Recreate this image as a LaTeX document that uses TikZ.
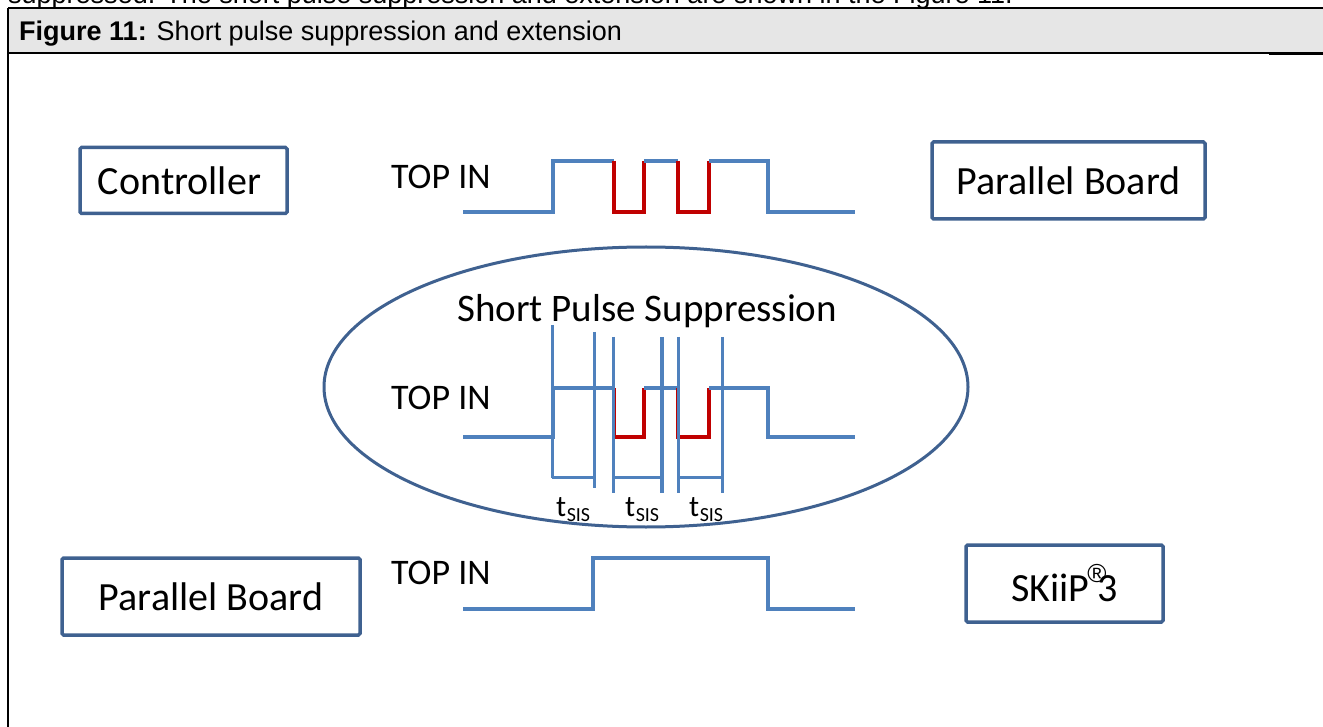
\documentclass[tikz,border=0pt]{standalone}
\usepackage{fontspec}
\setmainfont{Carlito}
\newfontfamily\arialf{Liberation Sans}
\usetikzlibrary{shapes.geometric}
\definecolor{boxc}{HTML}{3F6190}
\definecolor{wave}{HTML}{4F81BD}
\definecolor{redw}{HTML}{C00000}
\definecolor{hdr}{HTML}{E6E6E6}
\tikzset{
  labelbox/.style={draw=boxc, line width=3.5pt, rounded corners=1.5pt, inner sep=0pt, font=\fontsize{40}{48}\selectfont},
  wv/.style={draw=wave, line width=4pt, line join=miter},
  rd/.style={draw=redw, line width=4pt, line join=miter},
  tickline/.style={draw=wave, line width=3pt},
  siglabel/.style={anchor=base west, inner sep=0pt, font=\fontsize{36}{43}\selectfont},
  tlabel/.style={anchor=base west, inner sep=0pt, font=\fontsize{30}{34}\selectfont},
}
\newcommand{\tsis}{t\kern0.5pt\raisebox{-5pt}{\fontsize{20}{20}\selectfont SIS}}
\begin{document}
\begin{tikzpicture}[x=1pt,y=-1pt]
\useasboundingbox (0,0) rectangle (1323,727);
\clip (0,0) rectangle (1323,727);
% header
\fill[white] (0,0) rectangle (1323,727);
\node[anchor=base west, inner sep=0pt, font=\arialf\fontsize{27}{30}\selectfont] (prev) at (8,3.5) {suppressed. The short pulse suppression and extension are shown in the Figure 11.};
\fill[hdr] (8,8) rectangle (1323,53);
\draw[line width=1.5pt] (8,8) -- (1323,8);
\draw[line width=1.5pt] (8,53) -- (1269,53);
\draw[line width=3pt] (1269,54) -- (1323,54);
\draw[line width=1.5pt] (8,8) -- (8,727);
\node[anchor=base west, inner sep=0pt, font=\arialf\fontsize{27}{30}\selectfont] (hd) at (19,41) {\textbf{Figure 11:} Short pulse suppression and extension};
% boxes
\node[labelbox, minimum width=207pt, minimum height=66pt] (ctrl) at (183.5,180.5) {Controller\kern8pt};
\node[labelbox, minimum width=273pt, minimum height=77pt] (pb1) at (1068.5,180.5) {Parallel Board};
\node[labelbox, minimum width=298pt, minimum height=77pt] (pb2) at (211,596.5) {Parallel Board};
\node[labelbox, minimum width=197pt, minimum height=77pt] (skiip) at (1064.5,583.5) {SKiiP\kern-2pt\raisebox{19pt}{\arialf\fontsize{26}{26}\selectfont\textregistered}\kern-9pt 3};
% ellipse
\node[draw=boxc, line width=3pt, ellipse, minimum width=644pt, minimum height=280pt, inner sep=0pt] (ell) at (646,387) {};
\node[anchor=base west, inner sep=0pt, font=\fontsize{39}{47}\selectfont] (sps) at (457,322) {Short Pulse Suppression};
% labels
\node[siglabel] (top1) at (391,189) {TOP IN};
\node[siglabel] (top2) at (391,409) {TOP IN};
\node[siglabel] (top3) at (391,584) {TOP IN};
% waveform 1
\draw[wv] (463,212) -- (553,212) -- (553,161) -- (614,161);
\draw[rd] (614,161) -- (614,212) -- (644,212) -- (644,161);
\draw[wv] (644,161) -- (678,161);
\draw[rd] (678,161) -- (678,212) -- (709,212) -- (709,161);
\draw[wv] (709,161) -- (768,161) -- (768,212) -- (855,212);
% waveform 2
\draw[wv] (463,437) -- (553,437) -- (553,388) -- (614,388);
\draw[rd] (614,388) -- (614,437) -- (644,437) -- (644,388);
\draw[wv] (644,388) -- (678,388);
\draw[rd] (678,388) -- (678,437) -- (709,437) -- (709,388);
\draw[wv] (709,388) -- (768,388) -- (768,437) -- (855,437);
% timing marks
\draw[tickline] (552,325) -- (552,478);
\draw[tickline] (594,332) -- (594,488);
\draw[tickline] (613,337) -- (613,493);
\draw[draw=wave, line width=3.5pt] (662,337) -- (662,493);
\draw[tickline] (678,337) -- (678,493);
\draw[tickline] (722,337) -- (722,493);
\draw[tickline] (552,477) -- (594,477);
\draw[tickline] (613,477) -- (662,477);
\draw[tickline] (678,477) -- (722,477);
\node[tlabel] (t1) at (556,516) {\tsis};
\node[tlabel] (t2) at (625,516) {\tsis};
\node[tlabel] (t3) at (689,516) {\tsis};
% waveform 3
\draw[wv] (463,609) -- (593,609) -- (593,558) -- (768,558) -- (768,609) -- (855,609);
\end{tikzpicture}
\end{document}
